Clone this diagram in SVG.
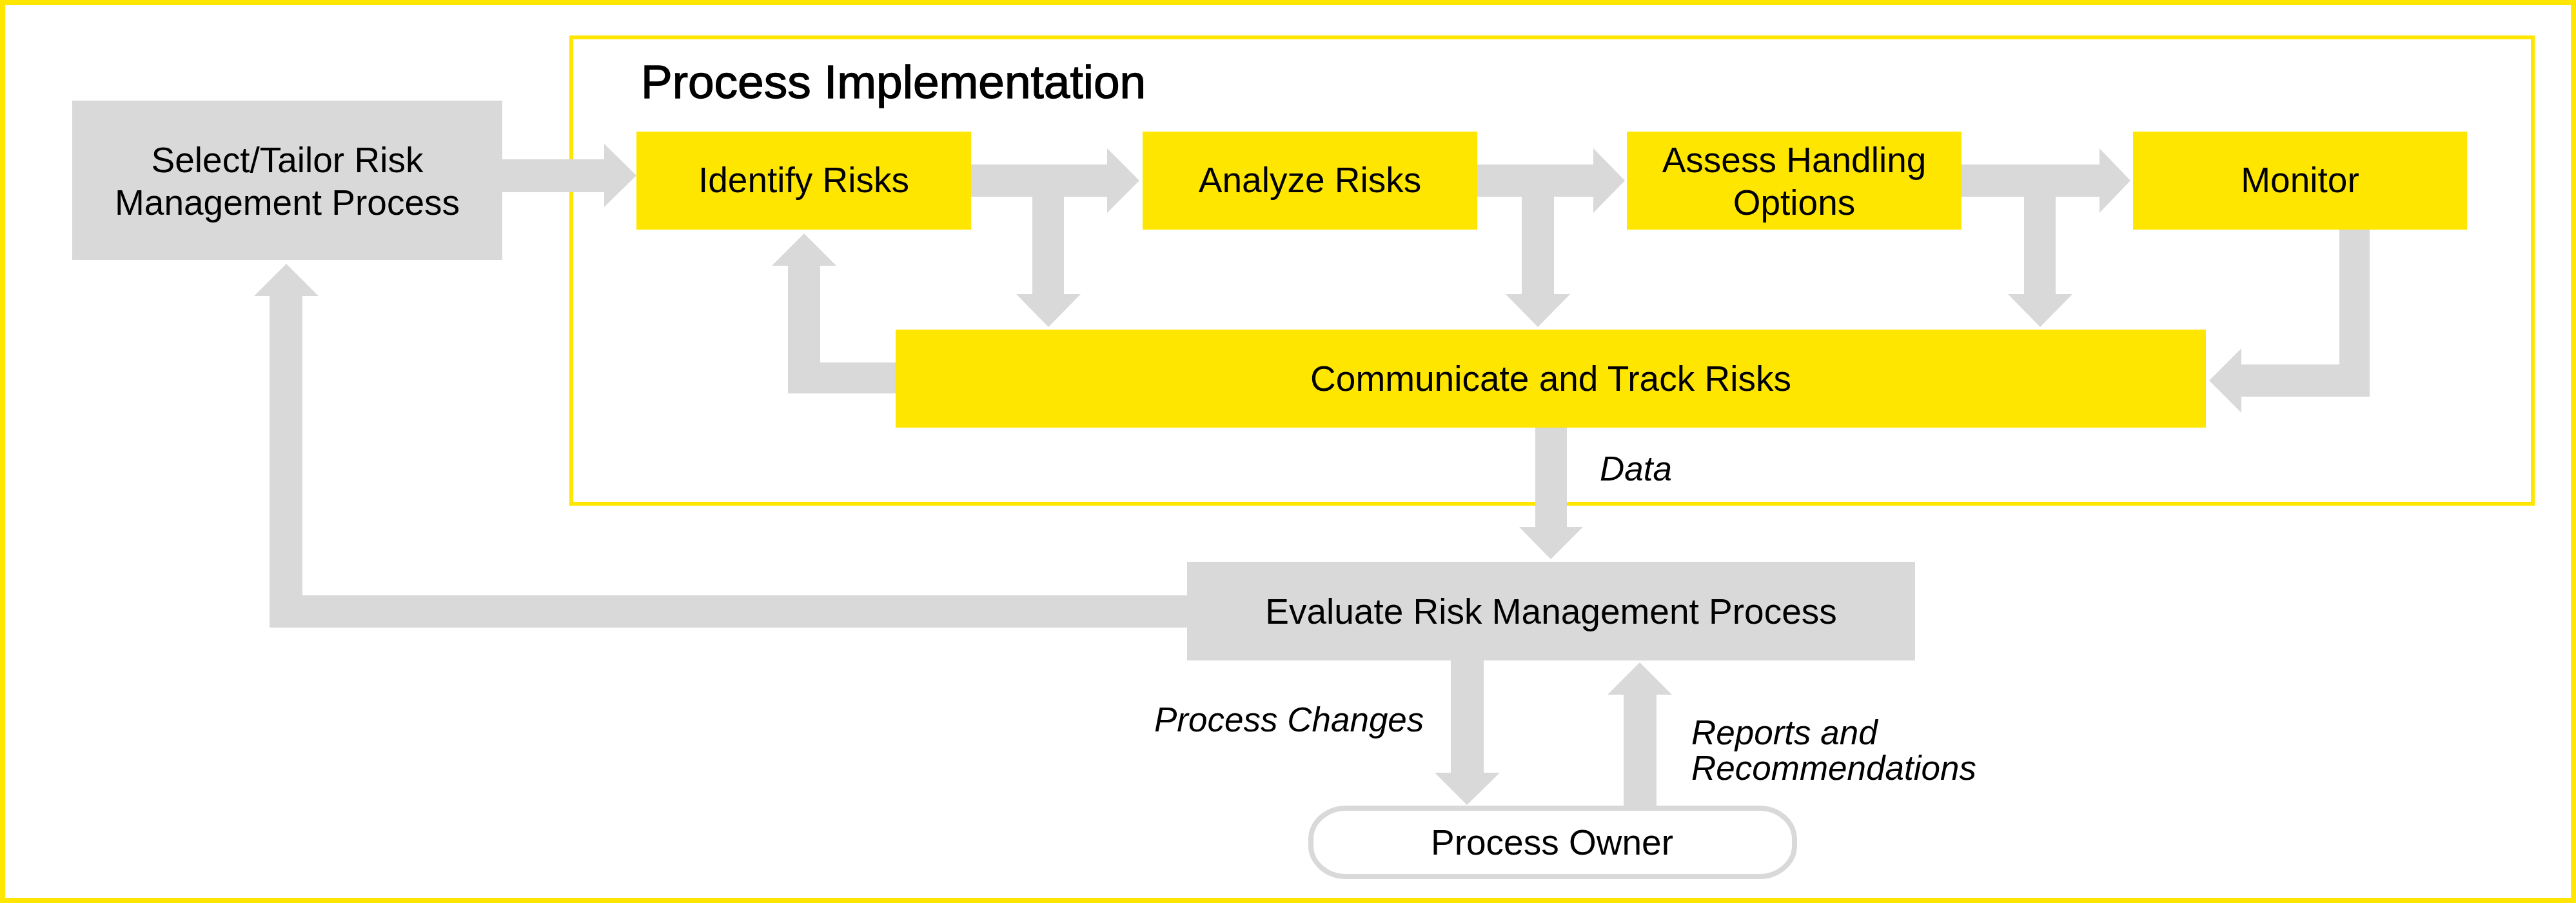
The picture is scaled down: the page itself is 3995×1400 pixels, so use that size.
<svg xmlns="http://www.w3.org/2000/svg" width="3995" height="1400" viewBox="0 0 3995 1400">
<style>
.frame{fill:none;stroke:#ffe600}
.gray{fill:#d9d9d9}
.yel{fill:#ffe600}
.arr{fill:#d9d9d9}
.t{font-family:"Liberation Sans",Arial,sans-serif;font-size:55px;fill:#000;text-anchor:middle}
.lbl{font-family:"Liberation Sans",Arial,sans-serif;font-size:53px;font-style:italic;fill:#000}
.title{font-family:"Liberation Sans",Arial,sans-serif;font-size:73px;fill:#000;stroke:#000;stroke-width:1.3}
</style>
<rect width="3995" height="1400" fill="#fff"/>
<rect class="frame" x="4" y="4" width="3987" height="1392" stroke-width="8"/>
<g id="process-implementation">
<rect class="frame" x="886" y="58" width="3042" height="723" stroke-width="6"/>
<text class="title" x="994" y="152">Process Implementation</text>
</g>
<g id="select-tailor">
<rect class="gray" x="112" y="156" width="667" height="247"/>
<text class="t" x="445.5" y="267">Select/Tailor Risk</text>
<text class="t" x="445.5" y="333">Management Process</text>
</g>
<g id="identify">
<rect class="yel" x="987" y="204" width="519" height="152"/>
<text class="t" x="1246.5" y="298">Identify Risks</text>
</g>
<g id="analyze">
<rect class="yel" x="1772" y="204" width="519" height="152"/>
<text class="t" x="2031.5" y="298">Analyze Risks</text>
</g>
<g id="assess">
<rect class="yel" x="2523" y="204" width="519" height="152"/>
<text class="t" x="2782.5" y="267">Assess Handling</text>
<text class="t" x="2782.5" y="333">Options</text>
</g>
<g id="monitor">
<rect class="yel" x="3308" y="204" width="518" height="152"/>
<text class="t" x="3567" y="298">Monitor</text>
</g>
<g id="communicate">
<rect class="yel" x="1389" y="511" width="2032" height="152"/>
<text class="t" x="2405" y="606">Communicate and Track Risks</text>
</g>
<g id="evaluate">
<rect class="gray" x="1841" y="871" width="1129" height="153"/>
<text class="t" x="2405.5" y="967">Evaluate Risk Management Process</text>
</g>
<g id="process-owner">
<rect x="2033" y="1253" width="750" height="106" rx="55" ry="48" fill="#fff" stroke="#d9d9d9" stroke-width="8"/>
<text class="t" x="2407" y="1325">Process Owner</text>
</g>
<g id="connectors">
<polygon class="arr" points="779,247 937,247 937,223 987,272 937,321 937,298 779,298"/>
<polygon class="arr" points="1506,255 1717,255 1717,230 1767,280 1717,330 1717,305 1650,305 1650,456 1676,456 1626,507 1576,456 1601,456 1601,305 1506,305"/>
<polygon class="arr" points="2291,255 2471,255 2471,230 2520,280 2471,330 2471,305 2410,305 2410,456 2435,456 2385,507 2335,456 2360,456 2360,305 2291,305"/>
<polygon class="arr" points="3042,255 3256,255 3256,230 3304,280 3256,330 3256,305 3188,305 3188,456 3214,456 3164,507 3114,456 3139,456 3139,305 3042,305"/>
<polygon class="arr" points="3628,356 3675,356 3675,615 3476,615 3476,640 3426,590 3476,540 3476,565 3628,565"/>
<polygon class="arr" points="1389,562 1272,562 1272,412 1297,412 1247,362 1197,412 1222,412 1222,610 1389,610"/>
<polygon class="arr" points="2381,663 2430,663 2430,817 2455,817 2405,867 2356,817 2381,817"/>
<polygon class="arr" points="1841,923 469,923 469,459 494,459 444,409 394,459 418,459 418,973 1841,973"/>
<polygon class="arr" points="2250,1024 2301,1024 2301,1198 2326,1198 2275,1248 2225,1198 2250,1198"/>
<polygon class="arr" points="2518,1249 2569,1249 2569,1077 2593,1077 2543,1027 2493,1077 2518,1077"/>
<text class="lbl" x="2481" y="745">Data</text>
<text class="lbl" x="1790" y="1134">Process Changes</text>
<text class="lbl" x="2623" y="1154">Reports and</text>
<text class="lbl" x="2623" y="1209">Recommendations</text>
</g>
</svg>
